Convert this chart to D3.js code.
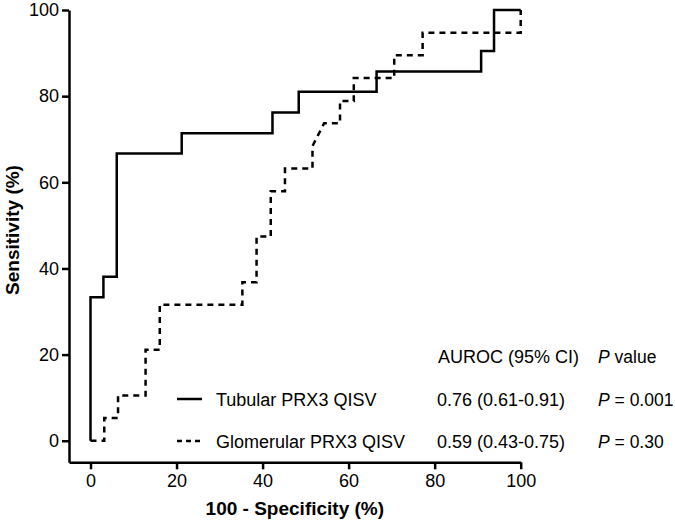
<!DOCTYPE html>
<html>
<head>
<meta charset="utf-8">
<script src="https://cdn.jsdelivr.net/npm/d3@7"></script>
<style>
  html, body { margin: 0; padding: 0; background: #fff; }
  svg { display: block; }
  text { font-family: "Liberation Sans", Arial, Helvetica, sans-serif; fill: #000; }
</style>
</head>
<body>
<svg id="chart" width="675" height="524"></svg>
<script>
// ROC vertices: 100 - specificity (%) and sensitivity (%)
const tubularX = [0, 0, 3.0, 3.0, 6.1, 6.1, 21.2, 21.2, 42.3, 42.3, 48.4, 48.4, 66.5, 66.5, 90.8, 90.8, 93.8, 93.8, 100];
const tubularY = [0, 33.3, 33.3, 38.1, 38.1, 66.7, 66.7, 71.4, 71.4, 76.2, 76.2, 81.0, 81.0, 85.7, 85.7, 90.5, 90.5, 100, 100];
const glomX = [0, 3.2, 3.2, 6.4, 6.4, 12.8, 12.8, 16.1, 16.1, 35.3, 35.3, 38.6, 38.6, 41.9, 41.9, 45.2, 45.2, 51.6, 51.6, 54.3, 58.0, 58.0, 61.2, 61.2, 70.6, 70.6, 77.2, 77.2, 100, 100];
const glomY = [0, 0, 5.3, 5.3, 10.5, 10.5, 21.1, 21.1, 31.6, 31.6, 36.8, 36.8, 47.4, 47.4, 57.9, 57.9, 63.2, 63.2, 68.4, 73.7, 73.7, 78.9, 78.9, 84.2, 84.2, 89.5, 89.5, 94.7, 94.7, 100];

const seriesNames = ["Tubular PRX3 QISV", "Glomerular PRX3 QISV"];
const aurocLabels = ["0.76 (0.61-0.91)", "0.59 (0.43-0.75)"];
const pValues = ["0.001", "0.30"];
const xTicks = [0, 20, 40, 60, 80, 100];
const yTicks = [0, 20, 40, 60, 80, 100];

const svg = d3.select("#chart");
const x = d3.scaleLinear().domain([-5, 100]).range([69, 520.7]);
const y = d3.scaleLinear().domain([-5, 100]).range([462.3, 10]);

// Axes
const xAxis = svg.append("g").attr("transform", `translate(0,${y(-5)})`)
  .call(d3.axisBottom(x).tickValues(xTicks).tickSize(7).tickPadding(5).tickSizeOuter(0));
const yAxis = svg.append("g").attr("transform", `translate(${x(-5)},0)`)
  .call(d3.axisLeft(y).tickValues(yTicks).tickSize(7).tickPadding(3).tickSizeOuter(0));
[xAxis, yAxis].forEach(a => {
  a.select(".domain").attr("stroke", "#000").attr("stroke-width", 2.5);
  a.selectAll(".tick line").attr("stroke", "#000").attr("stroke-width", 2.5);
  a.selectAll(".tick text").attr("font-size", 18).attr("fill", "#000")
    .attr("font-family", "'Liberation Sans', Arial, sans-serif");
});

// Axis titles
svg.append("text").attr("x", (x(-5) + x(100)) / 2).attr("y", 515)
  .attr("text-anchor", "middle").attr("font-size", 19).attr("font-weight", "bold")
  .text("100 - Specificity (%)");
svg.append("text").attr("transform", `translate(19,${230}) rotate(-90)`)
  .attr("text-anchor", "middle").attr("font-size", 19).attr("font-weight", "bold")
  .text("Sensitivity (%)");

// Curves
const line = d3.line().x(d => x(d[0])).y(d => y(d[1]));
const tubular = tubularX.map((v, i) => [v, tubularY[i]]);
const glom = glomX.map((v, i) => [v, glomY[i]]);
const dashes = ["none", "6,5"];

svg.append("path").datum(glom).attr("d", line).attr("fill", "none")
  .attr("stroke", "#000").attr("stroke-width", 2.5).attr("stroke-dasharray", dashes[1]);
svg.append("path").datum(tubular).attr("d", line).attr("fill", "none")
  .attr("stroke", "#000").attr("stroke-width", 2.5);

// Legend / table
const fs = 18, fsP = 17.5;
svg.append("text").attr("x", 438).attr("y", 363).attr("font-size", fs).text("AUROC (95% CI)");
const pv = svg.append("text").attr("x", 598).attr("y", 363).attr("font-size", fsP);
pv.append("tspan").attr("font-style", "italic").text("P");
pv.append("tspan").text(" value");

const rowY = [399, 441];
seriesNames.forEach((name, i) => {
  svg.append("line").attr("x1", 177).attr("x2", 202).attr("y1", rowY[i]).attr("y2", rowY[i])
    .attr("stroke", "#000").attr("stroke-width", 2.5).attr("stroke-dasharray", dashes[i] === "none" ? null : "5,4");
  svg.append("text").attr("x", 216).attr("y", rowY[i] + 6.5).attr("font-size", fs).text(name);
  svg.append("text").attr("x", 437).attr("y", rowY[i] + 6.5).attr("font-size", fs).text(aurocLabels[i]);
  const t = svg.append("text").attr("x", 598).attr("y", rowY[i] + 6.5).attr("font-size", fsP);
  t.append("tspan").attr("font-style", "italic").text("P");
  t.append("tspan").text(" = " + pValues[i]);
});
</script>
</body>
</html>
